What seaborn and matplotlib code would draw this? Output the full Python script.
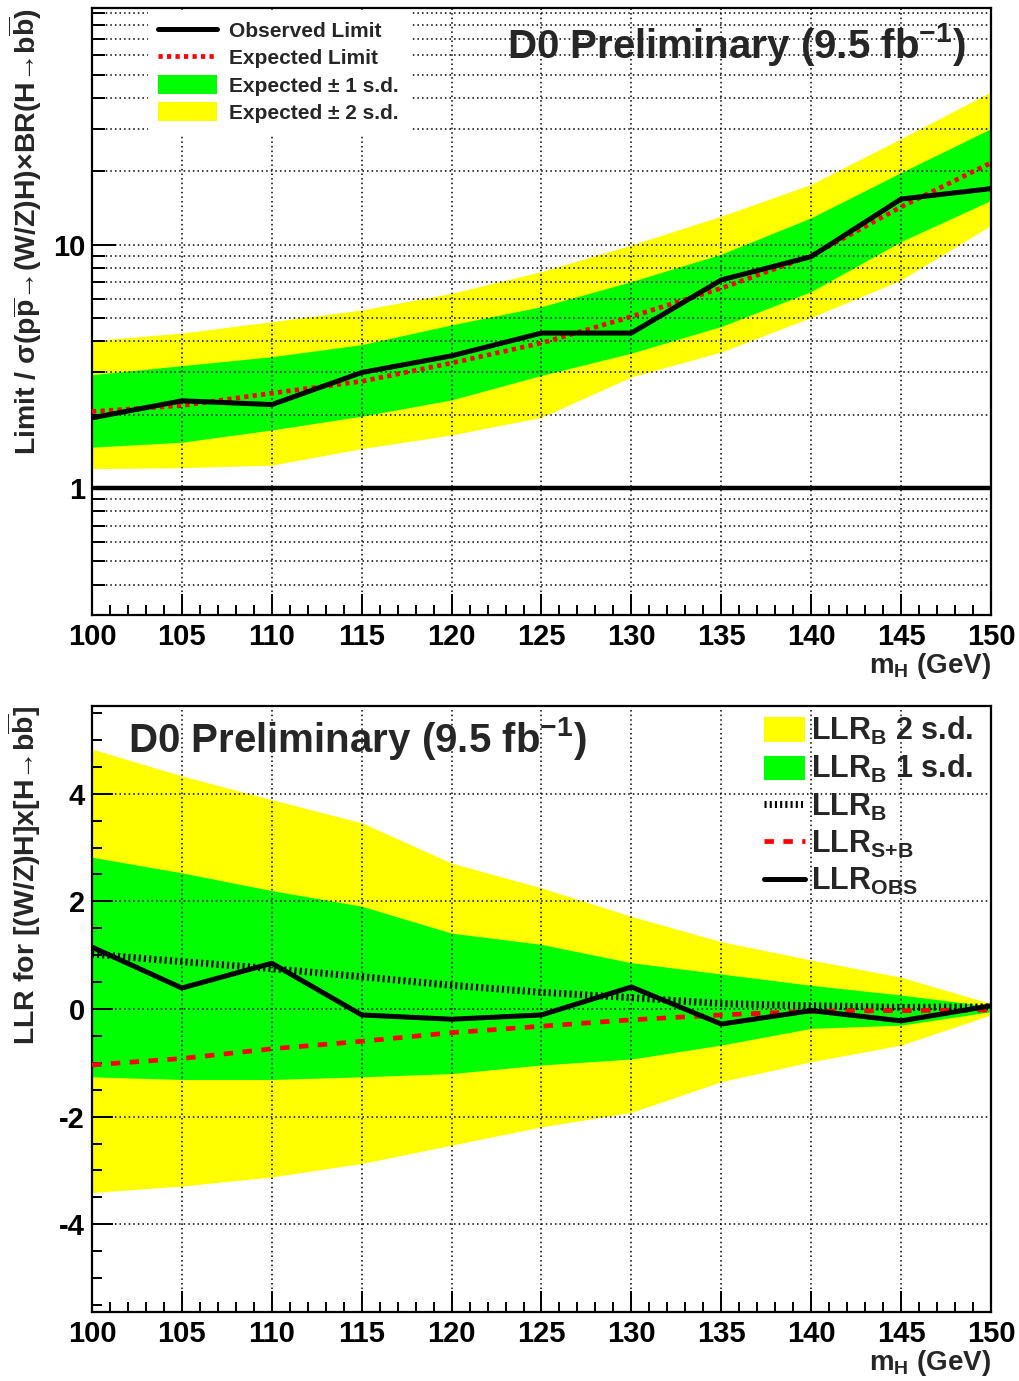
import numpy as np
import pandas as pd
import matplotlib
matplotlib.use("Agg")
import matplotlib.pyplot as plt
from matplotlib.lines import Line2D
from matplotlib.patches import Patch
from matplotlib.ticker import FixedLocator, FixedFormatter, NullFormatter, MultipleLocator
import seaborn as sns

# ---------------- data ----------------
mass = [100, 105, 110, 115, 120, 125, 130, 135, 140, 145, 150]

# upper panel: 95% CL limit / SM
limit_obs = [1.94, 2.28, 2.20, 2.98, 3.49, 4.33, 4.33, 7.16, 8.93, 15.4, 17.0]
limit_exp = [2.06, 2.18, 2.45, 2.74, 3.26, 3.94, 5.06, 6.62, 9.00, 14.3, 21.7]
limit_m1 = [1.47, 1.54, 1.73, 1.97, 2.30, 2.90, 3.58, 4.61, 6.41, 10.3, 15.2]
limit_p1 = [2.92, 3.18, 3.46, 3.88, 4.68, 5.56, 7.05, 9.14, 12.9, 19.8, 30.0]
limit_m2 = [1.20, 1.21, 1.24, 1.45, 1.65, 1.95, 2.86, 3.62, 5.02, 7.16, 12.0]
limit_p2 = [4.03, 4.33, 4.82, 5.39, 6.31, 7.75, 9.97, 13.1, 17.7, 27.3, 42.5]
sm_ratio = 1.0

# lower panel: log-likelihood ratios
llr_obs = [1.15, 0.39, 0.85, -0.11, -0.19, -0.11, 0.41, -0.28, -0.03, -0.22, 0.06]
llr_b = [1.02, 0.88, 0.75, 0.60, 0.44, 0.31, 0.21, 0.10, 0.06, 0.03, 0.04]
llr_sb = [-1.04, -0.92, -0.74, -0.60, -0.44, -0.32, -0.20, -0.11, -0.04, -0.03, -0.02]
llr_b_p1 = [2.82, 2.53, 2.20, 1.91, 1.41, 1.20, 0.86, 0.65, 0.44, 0.26, 0.05]
llr_b_m1 = [-1.26, -1.31, -1.31, -1.26, -1.20, -1.04, -0.93, -0.67, -0.36, -0.30, -0.05]
llr_b_p2 = [4.83, 4.33, 3.89, 3.46, 2.71, 2.25, 1.72, 1.25, 0.91, 0.59, 0.10]
llr_b_m2 = [-3.41, -3.29, -3.12, -2.87, -2.53, -2.19, -1.92, -1.35, -0.98, -0.67, -0.11]

x_ticks = [100, 105, 110, 115, 120, 125, 130, 135, 140, 145, 150]
x_ticklabels = ["100", "105", "110", "115", "120", "125", "130", "135", "140", "145", "150"]
limit_major = [1, 10]
limit_major_labels = ["1", "10"]
llr_ticks = [-4, -2, 0, 2, 4]
llr_ticklabels = ["-4", "-2", "0", "2", "4"]

# ---------------- style ----------------
sns.set_style("white")
plt.rcParams["font.family"] = ["Liberation Sans", "DejaVu Sans"]
plt.rcParams["font.weight"] = "bold"
plt.rcParams["axes.labelweight"] = "bold"
plt.rcParams["mathtext.fontset"] = "custom"
plt.rcParams["mathtext.rm"] = "Liberation Sans:bold"
plt.rcParams["mathtext.it"] = "Liberation Sans:bold"
plt.rcParams["mathtext.bf"] = "Liberation Sans:bold"
plt.rcParams["mathtext.sf"] = "Liberation Sans:bold"

YELLOW = "#ffff00"
GREEN = "#00ff00"
RED = "#ff0000"
TICK_FS = 21
LABEL_FS = 20.5

df = pd.DataFrame(dict(mass=mass, obs=limit_obs, exp=limit_exp,
                       llr_obs=llr_obs, llr_b=llr_b, llr_sb=llr_sb))

W, H = 1020, 1381
fig = plt.figure(figsize=(W / 100, H / 100), dpi=100)
ax1 = fig.add_axes([92 / W, 1 - 615 / H, 899 / W, 607 / H])
ax2 = fig.add_axes([92 / W, 1 - 1312 / H, 899 / W, 606 / H])


def frame(ax):
    for s in ax.spines.values():
        s.set_color("black")
        s.set_linewidth(1.6)
    ax.set_axisbelow(False)
    ax.set_xlim(100, 150)
    ax.xaxis.set_major_locator(FixedLocator(x_ticks))
    ax.xaxis.set_major_formatter(FixedFormatter(x_ticklabels))
    ax.xaxis.set_minor_locator(MultipleLocator(1))
    ax.tick_params(axis="both", which="major", direction="in", length=15, width=1.4,
                   labelsize=TICK_FS, colors="black", bottom=True, left=True,
                   top=False, right=False)
    ax.tick_params(axis="both", which="minor", direction="in", length=7, width=1.4,
                   colors="black", bottom=True, left=True, top=False, right=False)
    ax.tick_params(axis="x", which="major", pad=6)
    ax.tick_params(axis="y", which="major", pad=5)
    for lab in ax.get_xticklabels() + ax.get_yticklabels():
        lab.set_fontweight("bold")
    ax.grid(False)
    ax.xaxis.grid(True, which="major", linestyle=(0, (1, 2)), color="black", linewidth=1.1)
    ax.set_xlabel(r"m$_\mathrm{H}$ (GeV)", fontsize=20, fontweight="bold", loc="right",
                  labelpad=0)


# ---------------- upper panel ----------------
ax1.fill_between(mass, limit_m2, limit_p2, color=YELLOW, lw=0, zorder=1)
ax1.fill_between(mass, limit_m1, limit_p1, color=GREEN, lw=0, zorder=1.1)
sns.lineplot(data=df, x="mass", y="exp", ax=ax1, color=RED, linewidth=3.4,
             linestyle=(0, (0.9, 0.9)), errorbar=None, sort=False, zorder=3)
sns.lineplot(data=df, x="mass", y="obs", ax=ax1, color="black", linewidth=3.6,
             errorbar=None, sort=False, zorder=3.2)
ax1.axhline(sm_ratio, color="black", linewidth=3.2, zorder=3.3)

ax1.set_yscale("log")
ax1.set_ylim(0.3, 94)
frame(ax1)
ax1.yaxis.set_major_locator(FixedLocator(limit_major))
ax1.yaxis.set_major_formatter(FixedFormatter(limit_major_labels))
minor_vals = [v * d for d in (0.1, 1, 10) for v in range(2, 10) if 0.3 <= v * d <= 94]
ax1.yaxis.set_minor_locator(FixedLocator(minor_vals))
ax1.yaxis.set_minor_formatter(NullFormatter())
ax1.tick_params(axis="y", which="major", length=17)
ax1.tick_params(axis="y", which="minor", length=9)
ax1.yaxis.grid(True, which="both", linestyle=(0, (1, 2)), color="black", linewidth=1.1)
for lab in ax1.get_yticklabels():
    lab.set_fontweight("bold")
ax1.set_ylabel("Limit / σ(p$\\overline{\\mathrm{p}}$→(W/Z)H)×BR(H→b$\\overline{\\mathrm{b}}$)",
               fontsize=LABEL_FS, fontweight="bold", loc="top", labelpad=6)

ax1.text(0.4616, 0.9177, r"D0 Preliminary (9.5 fb$^{\mathrm{-1}}$)", transform=ax1.transAxes,
         ha="left", va="baseline", fontsize=29, fontweight="bold", zorder=5)

top_handles = [
    Line2D([], [], color="black", linewidth=3.6),
    Line2D([], [], color=RED, linewidth=3.4, linestyle=(0, (0.9, 0.9))),
    Patch(facecolor=GREEN, edgecolor="none"),
    Patch(facecolor=YELLOW, edgecolor="none"),
]
top_labels = ["Observed Limit", "Expected Limit", "Expected ± 1 s.d.", "Expected ± 2 s.d."]
leg1 = ax1.legend(top_handles, top_labels, loc="upper left",
                  bbox_to_anchor=((148 - 92) / 899, (615 - 10) / 607),
                  borderaxespad=0, frameon=True, fancybox=False, framealpha=1,
                  facecolor="white", edgecolor="white",
                  handlelength=2.8, handleheight=1.0, handletextpad=0.6,
                  labelspacing=0.33, borderpad=0.5, prop={"weight": "bold", "size": 15})
leg1.set_zorder(4)

# ---------------- lower panel ----------------
ax2.fill_between(mass, llr_b_m2, llr_b_p2, color=YELLOW, lw=0, zorder=1)
ax2.fill_between(mass, llr_b_m1, llr_b_p1, color=GREEN, lw=0, zorder=1.1)
sns.lineplot(data=df, x="mass", y="llr_b", ax=ax2, color="black", linewidth=5,
             linestyle=(0, (0.3, 0.45)), errorbar=None, sort=False, zorder=3)
sns.lineplot(data=df, x="mass", y="llr_sb", ax=ax2, color=RED, linewidth=3.4,
             linestyle=(0, (2.0, 2.0)), errorbar=None, sort=False, zorder=3.1)
sns.lineplot(data=df, x="mass", y="llr_obs", ax=ax2, color="black", linewidth=3.6,
             errorbar=None, sort=False, zorder=3.2)

ax2.set_ylim(-5.63, 5.63)
frame(ax2)
ax2.yaxis.set_major_locator(FixedLocator(llr_ticks))
ax2.yaxis.set_major_formatter(FixedFormatter(llr_ticklabels))
ax2.yaxis.set_minor_locator(MultipleLocator(0.5))
ax2.yaxis.set_minor_formatter(NullFormatter())
ax2.yaxis.grid(True, which="major", linestyle=(0, (1, 2)), color="black", linewidth=1.1)
for lab in ax2.get_yticklabels():
    lab.set_fontweight("bold")
ax2.set_ylabel("LLR for [(W/Z)H]x[H→b$\\overline{\\mathrm{b}}$]",
               fontsize=LABEL_FS, fontweight="bold", loc="top", labelpad=12)

ax2.text(0.040, 0.924, r"D0 Preliminary (9.5 fb$^{\mathrm{-1}}$)", transform=ax2.transAxes,
         ha="left", va="baseline", fontsize=29, fontweight="bold", zorder=5)

bot_handles = [
    Patch(facecolor=YELLOW, edgecolor="none"),
    Patch(facecolor=GREEN, edgecolor="none"),
    Line2D([], [], color="black", linewidth=5, linestyle=(0, (0.3, 0.45))),
    Line2D([], [], color=RED, linewidth=3.4, linestyle=(0, (2.0, 2.0))),
    Line2D([], [], color="black", linewidth=3.6),
]
bot_labels = [r"LLR$_\mathrm{B}$ 2 s.d.", r"LLR$_\mathrm{B}$ 1 s.d.", r"LLR$_\mathrm{B}$",
              r"LLR$_\text{S+B}$", r"LLR$_\mathrm{OBS}$"]
leg2 = ax2.legend(bot_handles, bot_labels, loc="upper left",
                  bbox_to_anchor=((758 - 92) / 899, (1312 - 709) / 606),
                  borderaxespad=0, frameon=False, handlelength=1.35, handleheight=0.85,
                  handletextpad=0.2, labelspacing=0.2, borderpad=0.2,
                  prop={"weight": "bold", "size": 22})
leg2.set_zorder(4)

fig.savefig("out.png", dpi=100, facecolor="white")
